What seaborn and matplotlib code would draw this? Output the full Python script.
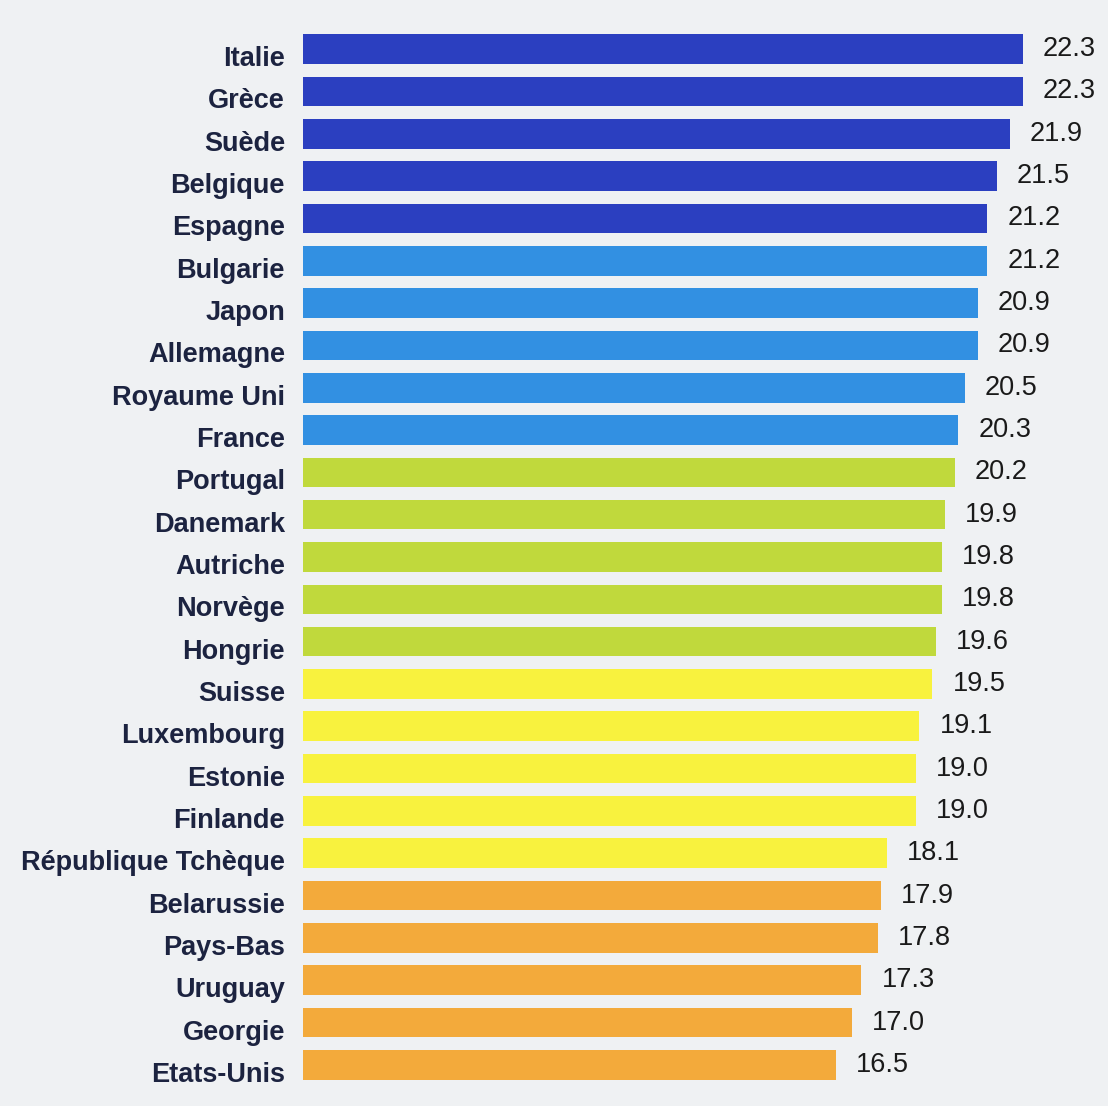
import matplotlib
matplotlib.use("Agg")
import matplotlib.pyplot as plt
import seaborn as sns
import pandas as pd
from matplotlib.transforms import ScaledTranslation

pays = ["Italie", "Grèce", "Suède", "Belgique", "Espagne",
        "Bulgarie", "Japon", "Allemagne", "Royaume Uni", "France",
        "Portugal", "Danemark", "Autriche", "Norvège", "Hongrie",
        "Suisse", "Luxembourg", "Estonie", "Finlande", "République Tchèque",
        "Belarussie", "Pays-Bas", "Uruguay", "Georgie", "Etats-Unis"]
valeurs = [22.3, 22.3, 21.9, 21.5, 21.2,
           21.2, 20.9, 20.9, 20.5, 20.3,
           20.2, 19.9, 19.8, 19.8, 19.6,
           19.5, 19.1, 19.0, 19.0, 18.1,
           17.9, 17.8, 17.3, 17.0, 16.5]
groupes = ["g1"] * 5 + ["g2"] * 5 + ["g3"] * 5 + ["g4"] * 5 + ["g5"] * 5

couleurs = {"g1": "#2b3fc0", "g2": "#3290e2", "g3": "#c0d93c",
            "g4": "#f8f23e", "g5": "#f3aa3b"}
fond = "#eff1f3"

df = pd.DataFrame({"pays": pays, "valeur": valeurs, "groupe": groupes})

sns.set_theme(style="white")
plt.rcParams['font.family'] = ['Liberation Sans', 'DejaVu Sans']

fig = plt.figure(figsize=(11.08, 11.06), dpi=100, facecolor=fond)
ax = fig.add_axes([303 / 1108, 1 - 1086 / 1106, 1 - 303 / 1108, (1086 - 28) / 1106])
ax.set_facecolor(fond)

sns.barplot(data=df, x="valeur", y="pays", hue="groupe", palette=couleurs,
            width=0.70, saturation=1, linewidth=0, legend=False, ax=ax)

ax.set_xlim(0, 24.94)
ax.set_xticks([])
ax.set_xlabel("")
ax.set_ylabel("")
sns.despine(ax=ax, left=True, bottom=True)

ax.tick_params(axis="y", length=0, pad=13)
decalage = ScaledTranslation(0, -0.07, fig.dpi_scale_trans)
for lab in ax.get_yticklabels():
    lab.set_fontsize(19.5)
    lab.set_fontweight("bold")
    lab.set_color("#1c2340")
    lab.set_transform(lab.get_transform() + decalage)

for i, v in enumerate(valeurs):
    ax.annotate(f"{v:.1f}", xy=(v, i), xytext=(20, 0), textcoords="offset pixels",
                ha="left", va="center", fontsize=19.5, color="#1a1a1a")

fig.savefig("out.png", dpi=100, facecolor=fond)
